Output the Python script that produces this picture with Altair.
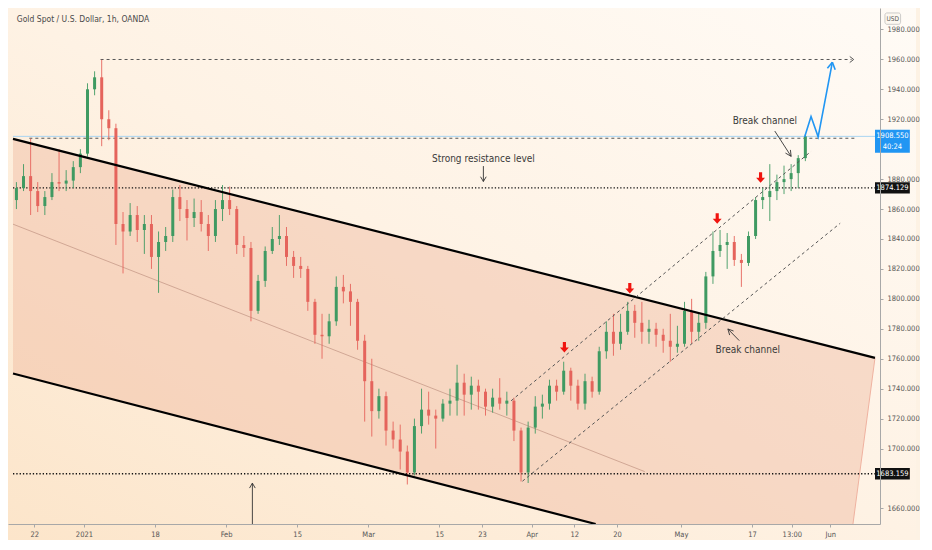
import altair as alt
import pandas as pd

W, H = 872, 516
T0, T1 = -2.98, 118.3
P0, P1 = 1649.6, 1994.3
FONT = "Liberation Sans Narrow, DejaVu Sans Condensed, sans-serif"

# ---------------- data (daily candles, trading-day index from Dec 22 2020) ----------------
day_index = list(range(-3, 109))
opens = [1866, 1874, 1882, 1872, 1862, 1868, 1878, 1877, 1879, 1888,
         1897, 1940, 1948, 1920, 1914, 1850, 1845, 1856, 1846, 1850,
         1828, 1838, 1842, 1868, 1860, 1854, 1858, 1850, 1842, 1860,
         1866, 1860, 1836, 1834, 1792, 1812, 1832, 1840, 1842, 1828,
         1822, 1820, 1798, 1776, 1775, 1785, 1808, 1805, 1798, 1772,
         1745, 1725, 1735, 1712, 1706, 1698, 1684, 1715, 1726, 1722,
         1720, 1730, 1732, 1744, 1736, 1742, 1738, 1728, 1734, 1730,
         1732, 1712, 1684, 1714, 1728, 1730, 1742, 1738, 1752, 1742,
         1730, 1745, 1738, 1765, 1778, 1770, 1778, 1792, 1784, 1778,
         1780, 1776, 1772, 1768, 1770, 1792, 1778, 1784, 1815, 1832,
         1836, 1838, 1826, 1824, 1842, 1866, 1868, 1872, 1878, 1880,
         1884, 1894]
highs = [1878, 1890, 1907, 1878, 1872, 1884, 1900, 1886, 1892, 1900,
         1944, 1952, 1959.7, 1926, 1917, 1858, 1864, 1862, 1856, 1856,
         1845, 1848, 1873, 1876, 1866, 1867, 1866, 1856, 1866, 1876,
         1875, 1862, 1842, 1838, 1816, 1835, 1848, 1856, 1848, 1832,
         1828, 1822, 1800, 1790, 1790, 1815, 1816, 1810, 1800, 1776,
         1760, 1740, 1738, 1718, 1716, 1702, 1720, 1740, 1738, 1726,
         1733, 1740, 1756, 1750, 1748, 1746, 1740, 1740, 1747, 1738,
         1734, 1714, 1718, 1735, 1736, 1746, 1746, 1758, 1754, 1746,
         1750, 1748, 1768, 1785, 1790, 1790, 1798, 1796, 1798, 1786,
         1784, 1780, 1790, 1782, 1798, 1800, 1790, 1818, 1845, 1846,
         1844, 1842, 1830, 1845, 1868, 1874, 1890, 1883, 1889, 1890,
         1896, 1910]
lows = [1860, 1872, 1856, 1858, 1856, 1866, 1872, 1872, 1874, 1884,
        1895, 1936, 1902, 1906, 1836, 1817, 1842, 1838, 1830, 1820,
        1804, 1832, 1838, 1852, 1839, 1848, 1845, 1832, 1838, 1852,
        1856, 1830, 1828, 1785, 1790, 1808, 1830, 1836, 1822, 1814,
        1814, 1792, 1770, 1760, 1770, 1782, 1797, 1782, 1766, 1718,
        1708, 1720, 1702, 1700, 1686, 1676, 1682, 1710, 1716, 1700,
        1718, 1722, 1722, 1722, 1726, 1726, 1722, 1724, 1726, 1722,
        1705, 1678, 1677, 1710, 1720, 1726, 1732, 1736, 1732, 1726,
        1726, 1734, 1736, 1760, 1762, 1766, 1776, 1774, 1770, 1770,
        1768, 1764, 1758, 1764, 1768, 1770, 1772, 1780, 1810, 1828,
        1820, 1822, 1808, 1822, 1840, 1860, 1852, 1866, 1870, 1872,
        1874, 1892]
closes = [1874, 1882, 1872, 1862, 1868, 1878, 1877, 1879, 1888, 1897,
          1940, 1948, 1920, 1914, 1850, 1845, 1856, 1846, 1850, 1828,
          1838, 1842, 1868, 1860, 1854, 1858, 1850, 1842, 1860, 1866,
          1860, 1836, 1834, 1792, 1812, 1832, 1840, 1842, 1828, 1822,
          1820, 1798, 1776, 1775, 1785, 1808, 1805, 1798, 1772, 1745,
          1725, 1735, 1712, 1706, 1698, 1684, 1715, 1726, 1722, 1720,
          1730, 1732, 1744, 1736, 1742, 1738, 1728, 1734, 1730, 1732,
          1712, 1684, 1714, 1728, 1730, 1742, 1738, 1752, 1742, 1730,
          1745, 1738, 1765, 1778, 1770, 1778, 1792, 1784, 1778, 1780,
          1776, 1772, 1768, 1770, 1792, 1778, 1784, 1815, 1832, 1836,
          1838, 1826, 1824, 1842, 1866, 1868, 1872, 1878, 1880, 1884,
          1894, 1908.55]

# x-axis ticks (trading-day index) and their labels
tick_days = [0, 7, 17, 27, 37, 47, 57, 63, 70, 76, 82, 91, 101, 106.6, 112]
tick_labels = ["22", "2021", "18", "Feb", "15", "Mar", "15", "23", "Apr", "12",
               "20", "May", "17", "13:00", "Jun"]
# price ticks (1680 and 1900 sit under the price tags)
price_ticks = [1660, 1700, 1720, 1740, 1760, 1780, 1800, 1820, 1840,
               1860, 1880, 1920, 1940, 1960, 1980]

# descending channel (thick lines) endpoints: (day, price)
upper_line = [(-2.98, 1906.9), (118.3, 1760.6)]
lower_line = [(-2.98, 1750.1), (79.0, 1649.6)]
mid_line = [(-2.98, 1849.9), (85.9, 1684.6)]
channel_t = [-2.98, 79.0, 115.2, 118.3]
channel_top = [1906.9, 1808.0, 1764.3, 1760.6]
channel_bottom = [1750.1, 1649.6, 1649.6, 1760.6]
channel_edge = [(118.3, 1760.6), (115.2, 1649.6)]

# rising channel (dashed)
rise_upper = [(67.1, 1731.9), (109.3, 1898.5)]
rise_lower = [(68.7, 1678.2), (113.4, 1850.5)]

# horizontal levels
level_top = 1959.9
level_break = 1907.3
level_support = 1874.129
level_low = 1683.159
last_price = 1908.55

# red arrows (sell points)
arrow_t = [74.6, 83.8, 96.1, 102.2]
arrow_p = [1767.6, 1807.1, 1853.7, 1881.0]

# blue projection path
proj_t = [108.4, 109.3, 110.3, 112.3]
proj_p = [1908.2, 1921.8, 1908.2, 1958.1]

# ---------------- frames ----------------
candles = pd.DataFrame({
    "t": [i + 0.5 for i in day_index],
    "open": opens, "high": highs, "low": lows, "close": closes,
})
candles["dir"] = ["up" if c >= o else "down" for o, c in zip(opens, closes)]

xs = alt.Scale(domain=[T0, T1], nice=False, zero=False)
ys = alt.Scale(domain=[P0, P1], nice=False, zero=False)

label_arr = "[" + ",".join("'%s'" % s for s in tick_labels) + "]"
value_arr = "[" + ",".join(str(v) for v in tick_days) + "]"
XAXIS = alt.Axis(values=tick_days, labelExpr="%s[indexof(%s, datum.value)]" % (label_arr, value_arr),
                 grid=False, domainColor="#a8a8a8", tickColor="#a8a8a8", tickSize=3,
                 labelFontSize=7.5, labelColor="#555555", labelFont=FONT, labelPadding=3,
                 labelFlush=False, labelOverlap=False, zindex=1, title=None)
YAXIS = alt.Axis(orient="right", values=price_ticks, format=".3f", grid=False,
                 domainColor="#a8a8a8", tickColor="#a8a8a8", tickSize=3,
                 labelFontSize=7.5, labelColor="#555555", labelFont=FONT,
                 labelPadding=4, labelOverlap=False, zindex=1, title=None)


def X(f):
    return alt.X(f, type="quantitative", scale=xs, axis=XAXIS, title=None)


def Y(f):
    return alt.Y(f, type="quantitative", scale=ys, axis=YAXIS, title=None)


def seg_df(segs):
    return pd.DataFrame({"t1": [s[0][0] for s in segs], "p1": [s[0][1] for s in segs],
                         "t2": [s[1][0] for s in segs], "p2": [s[1][1] for s in segs]})


def rules(segs, **mk):
    return alt.Chart(seg_df(segs)).mark_rule(clip=True, **mk).encode(
        x=X("t1"), y=Y("p1"), x2="t2", y2="p2")


# background gradient
bg = alt.Chart(pd.DataFrame({"a": [0]})).mark_rect(
    fill={"gradient": "linear", "x1": 1, "y1": 0, "x2": 0, "y2": 1,
          "stops": [{"offset": 0, "color": "#fffbf6"},
                    {"offset": 0.5, "color": "#fef2e4"},
                    {"offset": 1, "color": "#fce5ca"}]},
).encode(x=alt.value(0), x2=alt.value(W + 36), y=alt.value(0), y2=alt.value(H + 16))

channel = alt.Chart(pd.DataFrame({"t": channel_t, "top": channel_top, "bottom": channel_bottom})).mark_area(
    color="#eeb49b", opacity=0.42, clip=True).encode(x=X("t"), y=Y("top"), y2="bottom")

edge = rules([channel_edge], color="#efb2a0", strokeWidth=1)
mid = rules([mid_line], color="#c79a89", strokeWidth=0.8)

full = [T0, T1]
dotted = rules([((full[0], level_support), (full[1], level_support)),
                ((full[0], level_low), (full[1], level_low))],
               color="#111111", strokeWidth=1.3, strokeDash=[1.3, 2])
price_line = rules([((full[0], last_price), (full[1], last_price))], color="#a9d5f2", strokeWidth=1)
dashed_h = rules([((9.34, level_top), (115.0, level_top)),
                  ((-0.68, level_break), (115.8, level_break))],
                 color="#555555", strokeWidth=1, strokeDash=[3, 3])
top_head = rules([((114.75, 1961.9), (115.3, level_top)), ((114.75, 1957.9), (115.3, level_top))],
                 color="#555555", strokeWidth=1)

candle_color = alt.Color("dir:N", scale=alt.Scale(domain=["up", "down"], range=["#3f9a62", "#e5645c"]),
                         legend=None)
wick = alt.Chart(candles).mark_rule(strokeWidth=0.9, clip=True).encode(
    x=X("t"), y=Y("low"), y2="high", color=candle_color)
body = alt.Chart(candles).mark_bar(size=3, clip=True).encode(
    x=X("t"), y=Y("open"), y2="close", color=candle_color)

thick = rules([upper_line, lower_line], color="#000000", strokeWidth=2.2)
rising = rules([rise_upper, rise_lower], color="#555555", strokeWidth=1, strokeDash=[3, 3])

red = alt.Chart(pd.DataFrame({"t": arrow_t, "p": arrow_p})).mark_point(
    shape="M-0.3,-1L0.3,-1L0.3,0.05L0.85,0.05L0,1L-0.85,0.05L-0.3,0.05Z",
    filled=True, color="#f0140f", opacity=1, size=110).encode(x=X("t"), y=Y("p"))

proj = alt.Chart(pd.DataFrame({"t": proj_t, "p": proj_p, "o": [0, 1, 2, 3]})).mark_line(
    color="#2196f3", strokeWidth=1.6).encode(x=X("t"), y=Y("p"), order="o:Q")
proj_head = rules([((111.6, 1954.1), (112.3, 1958.1)), ((112.7, 1953.1), (112.3, 1958.1))],
                  color="#2196f3", strokeWidth=1.6)

# annotation arrows
ann_arrows = rules([
    ((63.2, 1888.7), (63.2, 1878.4)), ((62.8, 1881.6), (63.2, 1878.4)), ((63.6, 1881.6), (63.2, 1878.4)),
    ((104.2, 1912.1), (106.5, 1895.2)), ((105.7, 1897.4), (106.5, 1895.2)), ((106.4, 1899.5), (106.5, 1895.2)),
    ((99.2, 1772.1), (97.6, 1779.9)), ((98.4, 1778.5), (97.6, 1779.9)), ((97.85, 1775.8), (97.6, 1779.9)),
    ((30.7, 1649.6), (30.7, 1676.9)), ((30.3, 1673.6), (30.7, 1676.9)), ((31.1, 1673.6), (30.7, 1676.9)),
], color="#333333", strokeWidth=0.9)

ann_text = alt.Chart(pd.DataFrame({
    "t": [63.2, 102.8, 100.4],
    "p": [1893.3, 1918.5, 1765.6],
    "txt": ["Strong resistance level", "Break channel", "Break channel"],
})).mark_text(font=FONT, fontSize=10, color="#3a3a3a", align="center", baseline="middle").encode(
    x=X("t"), y=Y("p"), text="txt:N")

title = alt.Chart(pd.DataFrame({"t": [-2.45], "p": [1987.2], "txt": ["Gold Spot / U.S. Dollar, 1h, OANDA"]})).mark_text(
    font=FONT, fontSize=8.5, color="#4a4a4a", align="left", baseline="middle").encode(
    x=X("t"), y=Y("p"), text="txt:N")

# price tags on the right axis
tag_rect = alt.Chart(pd.DataFrame({
    "t1": [118.3, 118.3, 118.3], "t2": [123.2, 123.2, 123.2],
    "p1": [1913.0, level_support - 3.8, level_low - 3.8],
    "p2": [1897.6, level_support + 3.8, level_low + 3.8],
    "c": ["#2196f3", "#111111", "#111111"],
})).mark_rect().encode(x=X("t1"), x2="t2", y=Y("p1"), y2="p2", color=alt.Color("c:N", scale=None))
tag_text = alt.Chart(pd.DataFrame({
    "t": [120.75, 120.75, 120.75, 120.75],
    "p": [1908.7, 1901.4, level_support, level_low],
    "txt": ["1908.550", "40:24", "1874.129", "1683.159"],
})).mark_text(font=FONT, fontSize=7.5, color="white", align="center", baseline="middle").encode(
    x=X("t"), y=Y("p"), text="txt:N")
usd_box = alt.Chart(pd.DataFrame({"t1": [119.7], "t2": [121.9], "p1": [1983.4], "p2": [1991.0]})).mark_rect(
    fill="#fdf8f0", stroke="#b9b9b9", strokeWidth=0.7, cornerRadius=2).encode(
    x=X("t1"), x2="t2", y=Y("p1"), y2="p2")
usd_text = alt.Chart(pd.DataFrame({"t": [120.8], "p": [1987.2], "txt": ["USD"]})).mark_text(
    font=FONT, fontSize=6.5, color="#555555", align="center", baseline="middle").encode(
    x=X("t"), y=Y("p"), text="txt:N")

chart = alt.layer(
    bg, channel, edge, mid, price_line, dotted, dashed_h, top_head,
    wick, body, thick, rising, red, proj, proj_head, ann_arrows, ann_text, title,
    tag_rect, tag_text, usd_box, usd_text,
).properties(width=W, height=H, padding=0, background="#fdf2e4").configure_view(stroke=None)

chart.save("out.html", embed_options={"renderer": "svg", "actions": False})
